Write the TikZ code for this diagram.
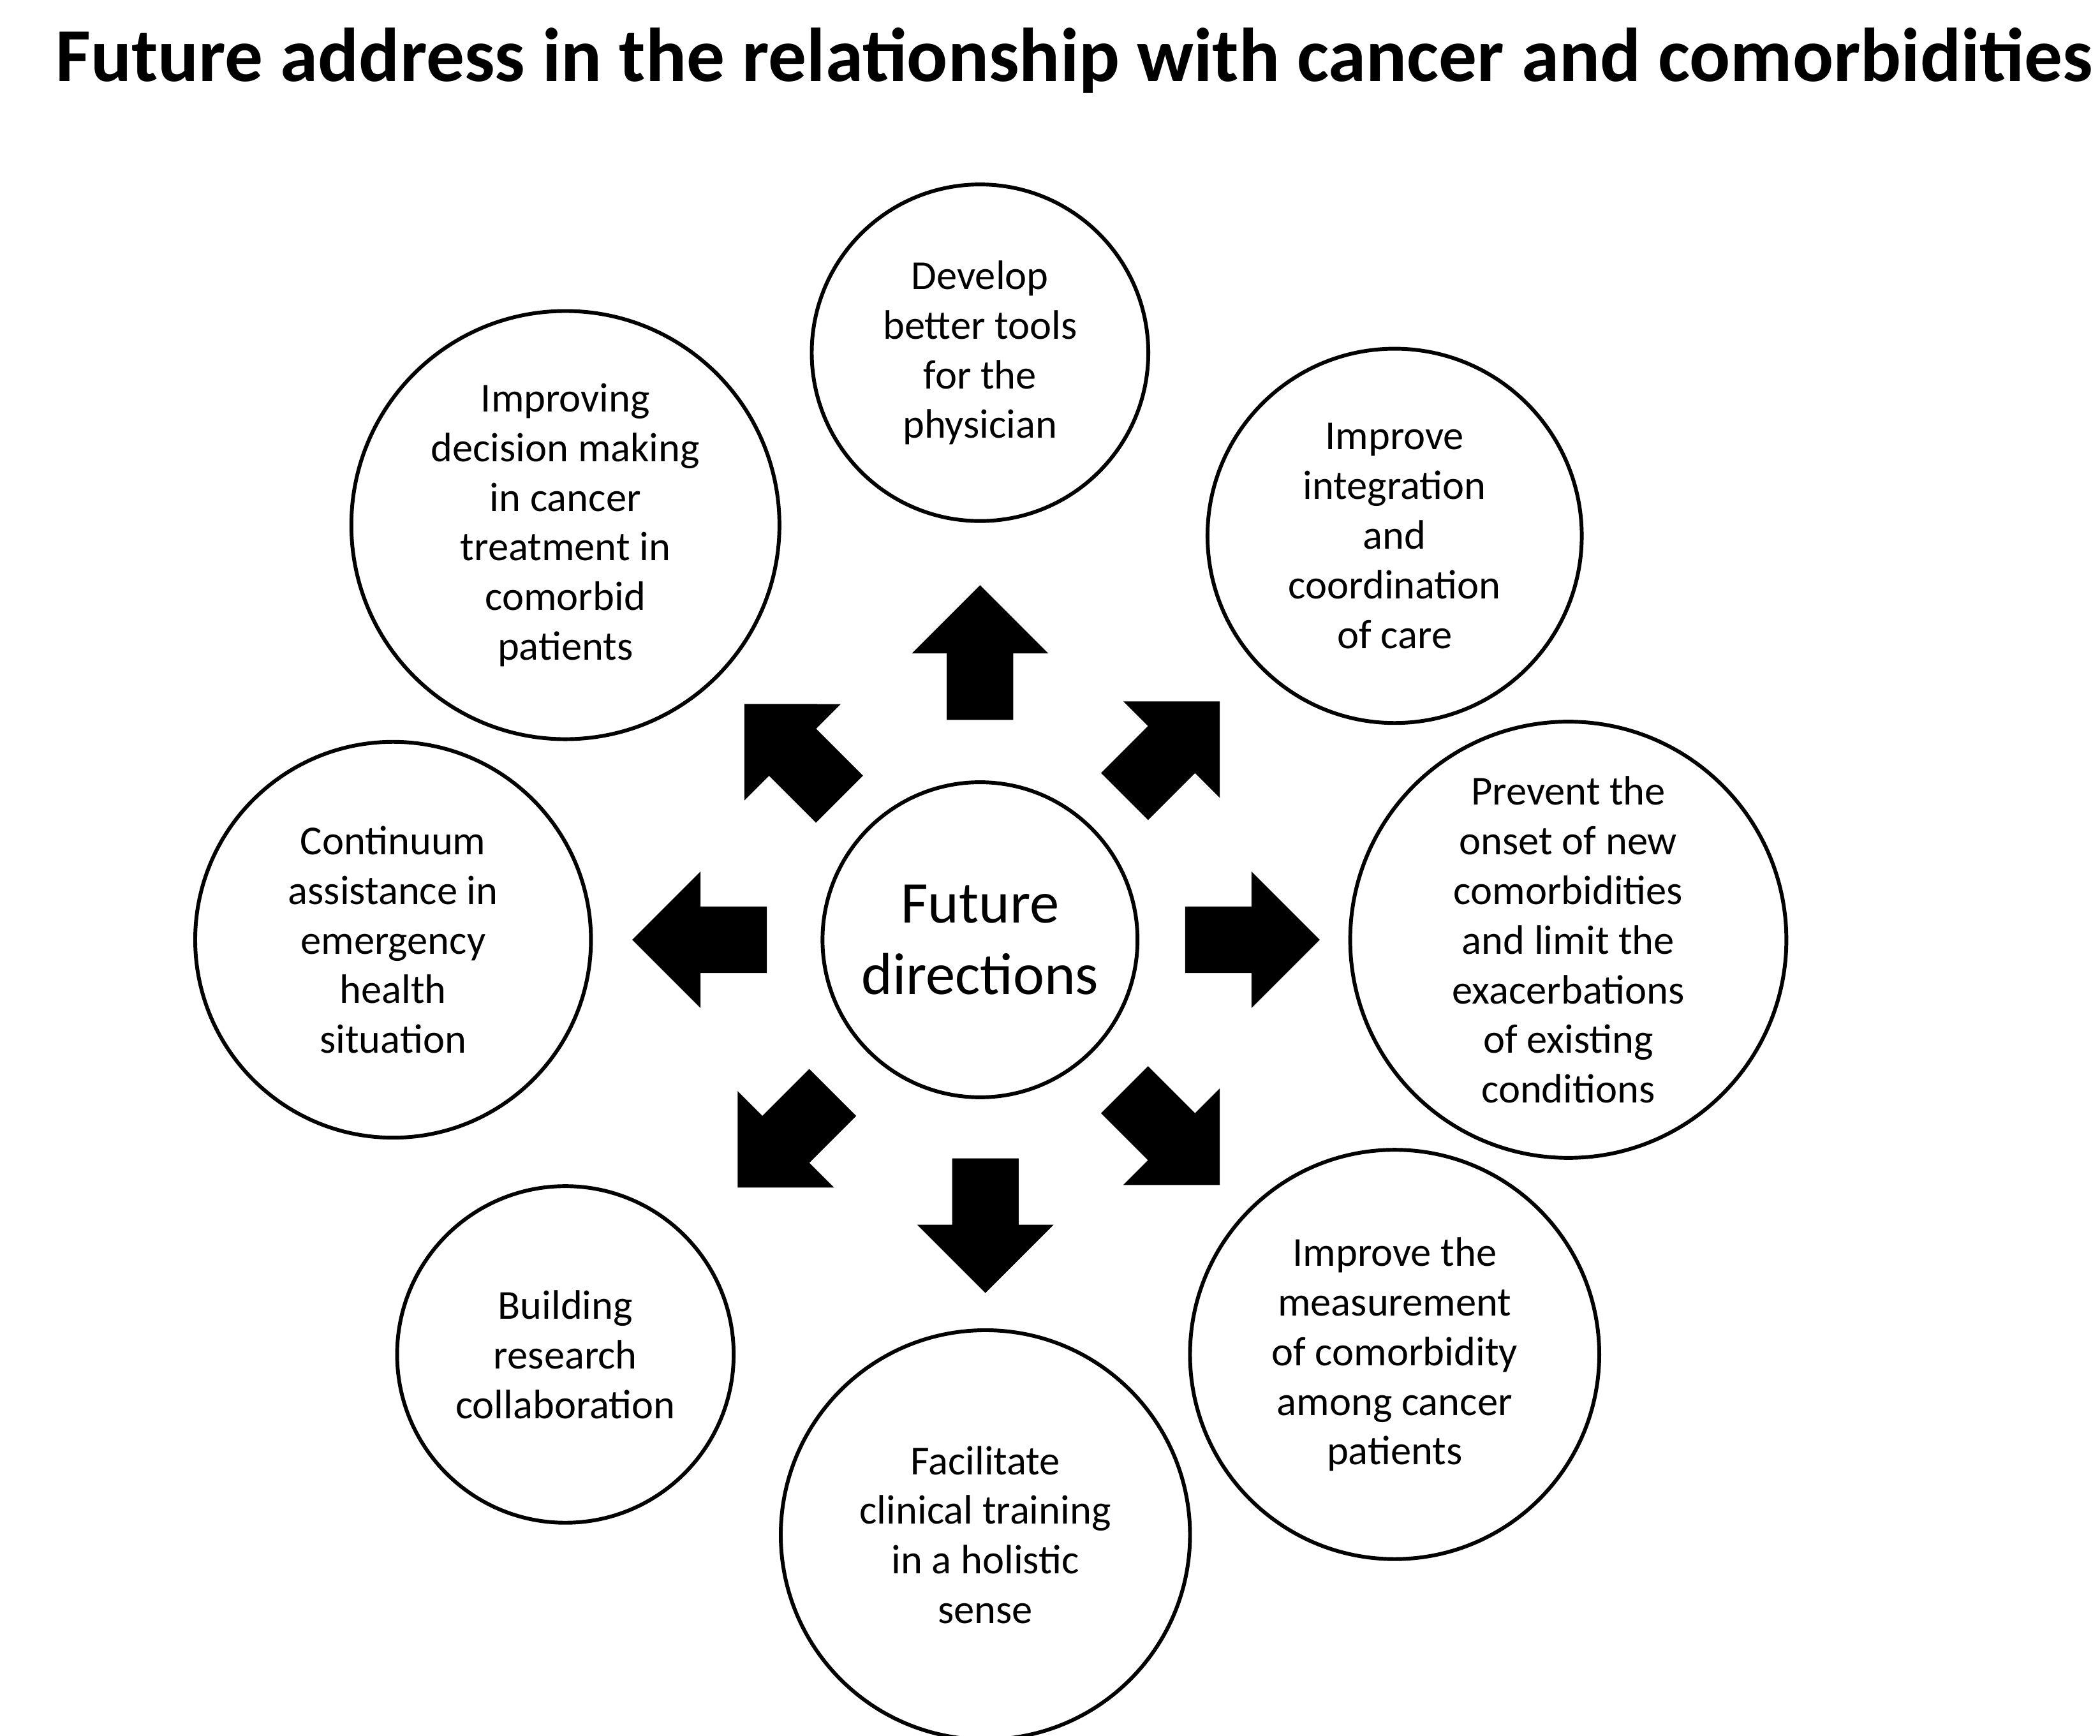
\documentclass[tikz,border=0pt]{standalone}
\usepackage{fontspec}
\setmainfont{Carlito}
\usetikzlibrary{shapes.arrows}

\tikzset{
  idea/.style={draw, thick, circle, inner sep=0pt, align=center,
    font=\fontsize{8.7}{10.5}\selectfont},
  bigarrow/.style={single arrow, fill=black, inner sep=0.24cm, minimum height=1cm,
    minimum width=1cm, single arrow head extend=0.26cm}
}

\begin{document}
\begin{tikzpicture}
    \useasboundingbox (0,0) rectangle (15.6,12.89);
    \node[font=\fontsize{16.1}{19}\selectfont\bfseries] (title) at (7.98,12.44) {Future address in the relationship with cancer and comorbidities};

    % Centre
    \node[idea, minimum size=2.34cm, font=\fontsize{12.5}{15}\selectfont] (Centre) at (7.28,5.91) {Future\\directions};

    % Circles round the centre
    \node[idea, minimum size=2.50cm] (Tools) at (7.28,10.27) {Develop\\better tools\\for the\\physician};
    \node[idea, minimum size=3.18cm] (Decision) at (4.20,8.99) {Improving\\decision making\\in cancer\\treatment in\\comorbid\\patients};
    \node[idea, minimum size=2.78cm] (Integration) at (10.36,8.91) {Improve\\integration\\and\\coordination\\of care};
    \node[idea, minimum size=3.24cm] (Prevent) at (11.65,5.91) {Prevent the\\onset of new\\comorbidities\\and limit the\\exacerbations\\of existing\\conditions};
    \node[idea, minimum size=2.94cm] (Continuum) at (2.92,5.91) {Continuum\\assistance in\\emergency\\health\\situation};
    \node[idea, minimum size=3.04cm] (Measure) at (10.36,2.83) {Improve the\\measurement\\of comorbidity\\among cancer\\patients};
    \node[idea, minimum size=3.04cm] (Training) at (7.32,1.49) {Facilitate\\clinical training\\in a holistic\\sense};
    \node[idea, minimum size=2.50cm] (Research) at (4.20,2.83) {Building\\research\\collaboration};

    % Arrows
    \node[bigarrow, rotate=90] (aN) at (7.28,7.92) {};
    \node[bigarrow, rotate=45] (aNE) at (8.62,7.24) {};
    \node[bigarrow, rotate=0] (aE) at (9.18,5.91) {};
    \node[bigarrow, rotate=-45] (aSE) at (8.62,4.53) {};
    \node[bigarrow, rotate=-90] (aS) at (7.32,3.91) {};
    \node[bigarrow, rotate=-135] (aSW) at (5.92,4.51) {};
    \node[bigarrow, rotate=180] (aW) at (5.32,5.91) {};
    \node[bigarrow, rotate=135] (aNW) at (5.97,7.22) {};
\end{tikzpicture}
\end{document}
